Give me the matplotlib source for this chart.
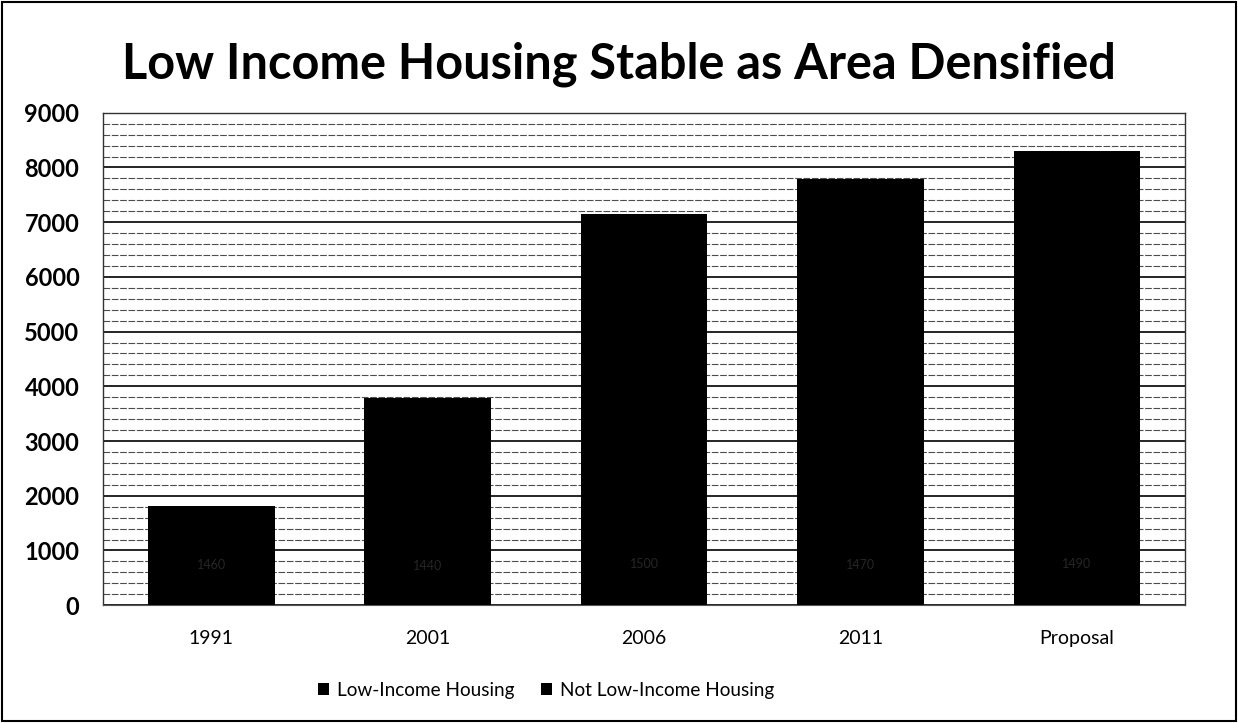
import matplotlib
matplotlib.use("Agg")
import matplotlib.pyplot as plt
from matplotlib.patches import Rectangle
from matplotlib.ticker import MultipleLocator

categories = ["1991", "2001", "2006", "2011", "Proposal"]
low_income = [1460, 1440, 1500, 1470, 1490]
totals = [1820, 3790, 7150, 7790, 8300]
not_low_income = [t - l for t, l in zip(totals, low_income)]
series_names = ["Low-Income Housing", "Not Low-Income Housing"]

plt.rcParams['font.family'] = ['Lato', 'DejaVu Sans']

fig = plt.figure(figsize=(12.38, 7.23), dpi=100)
fig.patches.append(Rectangle((0.002, 0.003), 0.996, 0.994, transform=fig.transFigure,
                             fill=False, edgecolor='black', lw=1.5))
ax = fig.add_axes([0.0832, 0.163, 0.874, 0.681])

x = list(range(len(categories)))
w = 0.585
ax.bar(x, low_income, width=w, color='black', label=series_names[0], zorder=3)
ax.bar(x, not_low_income, width=w, bottom=low_income, color='black',
       label=series_names[1], zorder=3)
for xi, v in zip(x, low_income):
    ax.text(xi, v / 2, f"{v}", ha='center', va='center', fontsize=9,
            color='#262626', zorder=4)

ax.set_ylim(0, 9000)
ax.set_xlim(-0.5, len(categories) - 0.5)
ax.yaxis.set_major_locator(MultipleLocator(1000))
ax.yaxis.set_minor_locator(MultipleLocator(200))
ax.grid(axis='y', which='major', color='black', lw=1.2, zorder=0)
ax.grid(axis='y', which='minor', color='#4d4d4d', lw=0.8, linestyle=(0, (6, 1.5)), zorder=0)
ax.set_xticks(x)
ax.set_xticklabels(categories, fontsize=14)
ax.tick_params(axis='x', length=0, pad=18)
ax.tick_params(axis='y', which='both', length=0, labelsize=17, pad=17)
for lab in ax.get_yticklabels():
    lab.set_fontweight('bold')
for s in ['left', 'top', 'right']:
    ax.spines[s].set_color('#333333')
    ax.spines[s].set_linewidth(1.0)
ax.spines['bottom'].set_color('#555555')

fig.suptitle("Low Income Housing Stable as Area Densified", fontsize=35,
             fontweight='bold', x=0.5, y=0.942)

leg = fig.legend(loc='center', bbox_to_anchor=(0.441, 0.045), ncol=2, frameon=False,
                 fontsize=13.7, handlelength=0.6, handleheight=0.6, handletextpad=0.4,
                 columnspacing=1.4)

fig.savefig("out.png", dpi=100)
